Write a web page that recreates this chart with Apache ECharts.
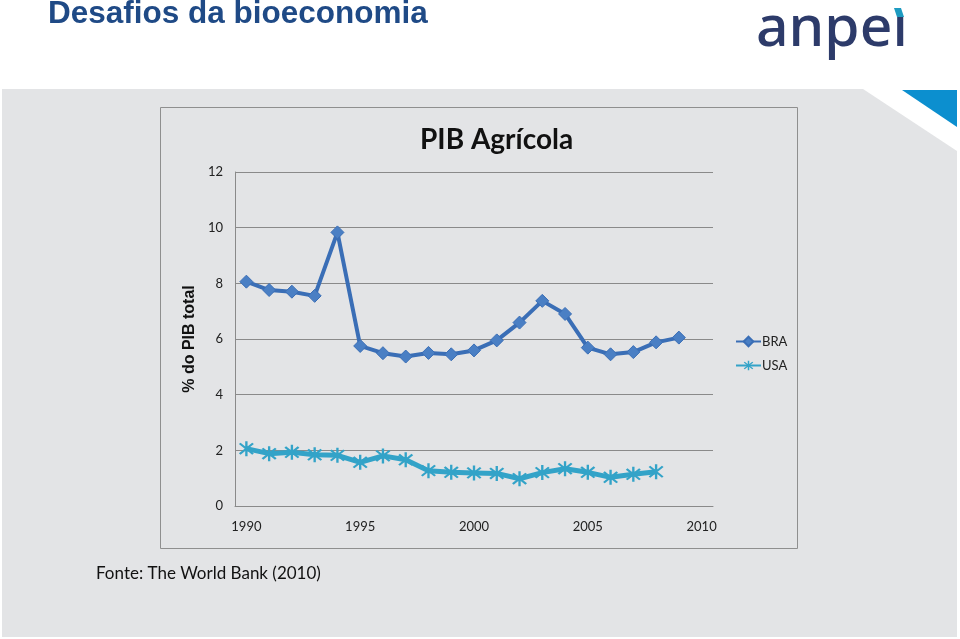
<!DOCTYPE html>
<html>
<head>
<meta charset="utf-8">
<script src="https://cdn.jsdelivr.net/npm/echarts@6/dist/echarts.min.js"></script>
<style>
  html, body { margin: 0; padding: 0; background: #fff; }
  #chart { width: 960px; height: 639px; }
</style>
</head>
<body>
<div id="chart"></div>
<script>
// data
const years = ['1990', '1991', '1992', '1993', '1994', '1995', '1996', '1997', '1998', '1999',
  '2000', '2001', '2002', '2003', '2004', '2005', '2006', '2007', '2008', '2009', '2010'];
const bra = [8.06, 7.76, 7.70, 7.55, 9.83, 5.75, 5.49, 5.37, 5.50, 5.45,
  5.59, 5.95, 6.59, 7.37, 6.90, 5.69, 5.45, 5.53, 5.88, 6.05];
const usa = [2.06, 1.88, 1.93, 1.84, 1.82, 1.57, 1.80, 1.66, 1.27, 1.21,
  1.19, 1.17, 0.98, 1.20, 1.34, 1.21, 1.03, 1.14, 1.23];

// asterisk marker like the Excel "star" (vertical bar + X)
const starPath = 'path://M-1,-8L1,-8L1,8L-1,8Z' +
  'M-6.36,-4.95L-4.95,-6.36L6.36,4.95L4.95,6.36Z' +
  'M4.95,-6.36L6.36,-4.95L-4.95,6.36L-6.36,4.95Z';

const chart = echarts.init(document.getElementById('chart'));
const gray = '#8a8a8a';

chart.setOption({
  animation: false,
  textStyle: { fontFamily: 'Lato' },
  graphic: [
    // slide background
    { type: 'rect', z: -10, shape: { x: 2, y: 89, width: 955, height: 548 }, style: { fill: '#e3e4e6' } },
    { type: 'polygon', z: -9, shape: { points: [[863, 89], [960, 89], [960, 153]] }, style: { fill: '#ffffff' } },
    { type: 'polygon', z: -8, shape: { points: [[902, 90], [957, 90], [957, 127]] }, style: { fill: '#0c8fcf' } },
    // chart frame
    { type: 'rect', z: -5, shape: { x: 160.5, y: 107.5, width: 637, height: 441 }, style: { fill: '#e3e4e6', stroke: '#8f8f8f', lineWidth: 1 } },
    // slide title
    { type: 'text', x: 48, y: 14, style: { text: 'Desafios da bioeconomia', font: 'bold 31.5px "Liberation Sans"', fill: '#1f4a86', verticalAlign: 'middle' } },
    // logo
    { type: 'text', x: 756, y: 30, style: { text: 'anpeı', font: '500 57px "Noto Sans"', fill: '#2d3b6a', verticalAlign: 'middle' } },
    { type: 'polygon', shape: { points: [[894, 8], [901, 8], [904, 17], [897, 17]] }, style: { fill: '#1e9bc1' } },
    // source
    { type: 'text', left: 96, top: 565, style: { text: 'Fonte: The World Bank (2010)', font: '17px Lato', fill: '#111' } }
  ],
  title: {
    text: 'PIB Agrícola',
    left: 415, top: 121,
    textStyle: { fontFamily: 'Lato', fontSize: 28, fontWeight: 'bold', color: '#111' }
  },
  legend: {
    orient: 'vertical',
    left: 730, top: 330,
    itemWidth: 25, itemHeight: 12, itemGap: 11,
    textStyle: { fontFamily: 'Lato', fontSize: 13, color: '#222', padding: [0, 0, 0, -4] },
    data: ['BRA', 'USA']
  },
  grid: { left: 235, right: 247, top: 172, bottom: 133 },
  xAxis: {
    type: 'category',
    data: years,
    boundaryGap: true,
    axisLine: { lineStyle: { color: gray, width: 1 } },
    axisTick: { show: false },
    axisLabel: { interval: 4, margin: 14, fontSize: 13, color: '#222', fontFamily: 'Lato' }
  },
  yAxis: {
    type: 'value',
    min: 0, max: 12, interval: 2,
    name: '% do PIB total',
    nameLocation: 'middle',
    nameGap: 37,
    nameTextStyle: { fontFamily: 'Liberation Sans', fontWeight: 'bold', fontSize: 16, color: '#111' },
    axisLine: { show: true, lineStyle: { color: gray, width: 1 } },
    axisTick: { show: false },
    axisLabel: { margin: 12, fontSize: 13, color: '#222', fontFamily: 'Lato' },
    splitLine: { lineStyle: { color: gray, width: 1 } }
  },
  series: [
    {
      name: 'BRA', type: 'line', data: bra,
      symbol: 'diamond', symbolSize: 13,
      lineStyle: { color: '#3a6eb6', width: 4 },
      itemStyle: { color: '#4a7fc4', borderColor: '#3a6eb6', borderWidth: 1 }
    },
    {
      name: 'USA', type: 'line', data: usa,
      symbol: starPath, symbolSize: 15,
      lineStyle: { color: '#33a3c8', width: 5 },
      itemStyle: { color: '#33a3c8' }
    }
  ]
});
</script>
</body>
</html>
